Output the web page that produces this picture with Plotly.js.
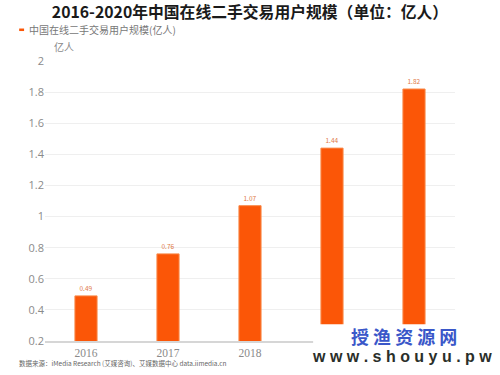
<!DOCTYPE html>
<html><head><meta charset="utf-8">
<script src="https://cdn.plot.ly/plotly-3.0.1.min.js"></script>
<style>html,body{margin:0;padding:0;background:#fff;}</style>
</head><body>
<div id="chart" style="width:500px;height:375px;"></div>
<script>
const years = ['2016', '2017', '2018', '2019', '2020'];
const users = [0.49, 0.76, 1.07, 1.44, 1.82];
const userLabels = ['0.49', '0.76', '1.07', '1.44', '1.82'];
const yTicks = [0.2, 0.4, 0.6, 0.8, 1, 1.2, 1.4, 1.6, 1.8, 2];
const seriesName = '中国在线二手交易用户规模(亿人)';
const titleText = '2016-2020年中国在线二手交易用户规模（单位：亿人）';
const unitText = '亿人';
const sourceText = '数据来源：iMedia Research (艾媒咨询)、艾媒数据中心 data.iimedia.cn';

const cjk = '"Noto Sans CJK SC", "Noto Sans", sans-serif';
const orange = '#fb5607';

const trace = {
  type: 'bar', x: years, y: users, name: seriesName,
  width: 0.27,
  marker: {color: orange, line: {color: '#f98a4a', width: 1}},
  text: userLabels, textposition: 'outside', cliponaxis: false,
  textfont: {family: cjk, size: 6.5, color: '#e07a48'},
  showlegend: false, hoverinfo: 'none'
};

const layout = {
  width: 500, height: 375,
  margin: {l: 45, r: 45, t: 61, b: 34},
  paper_bgcolor: '#ffffff', plot_bgcolor: '#ffffff',
  title: {text: '<b>' + titleText + '</b>', x: 0.5, xanchor: 'center', y: 0.968, yanchor: 'middle',
          font: {family: cjk, size: 15.8, color: '#1a1a1a'}},
  xaxis: {
    type: 'category', showgrid: false, zeroline: false,
    showline: true, linecolor: '#d6d6d6', linewidth: 2,
    ticks: '', tickfont: {family: '"Liberation Serif", serif', size: 11.5, color: '#8a8a8a'}
  },
  yaxis: {
    range: [0.2, 2], tickvals: yTicks, ticktext: yTicks.map(String),
    showgrid: true, gridcolor: '#efefef', gridwidth: 1,
    zeroline: false, showline: false, ticks: '',
    tickfont: {family: '"Open Sans", sans-serif', size: 11, color: '#8a8a8a'}
  },
  shapes: [
    {type: 'rect', xref: 'paper', yref: 'paper', x0: -0.063, x1: -0.051, y0: 1.116, y1: 1.107,
     fillcolor: orange, line: {width: 0}},
    {type: 'rect', xref: 'paper', yref: 'paper', x0: 0.654, x1: 1.2, y0: 0.06, y1: -0.2,
     fillcolor: '#ffffff', line: {width: 0}, layer: 'above'}
  ],
  annotations: [
    {text: seriesName, xref: 'paper', yref: 'paper', x: -0.045, y: 1.111, xanchor: 'left', yanchor: 'middle',
     showarrow: false, font: {family: cjk, size: 10, color: '#777777'}},
    {text: unitText, xref: 'paper', yref: 'paper', x: 0.018, y: 1.053, xanchor: 'left', yanchor: 'middle',
     showarrow: false, font: {family: cjk, size: 10, color: '#8a8a8a'}},
    {text: sourceText, xref: 'paper', yref: 'paper', x: -0.068, y: -0.079, xanchor: 'left', yanchor: 'middle',
     showarrow: false, font: {family: cjk, size: 6.5, color: '#666666'}},
    {text: '<b>授 渔 资 源 网</b>', xref: 'paper', yref: 'paper', x: 0.875, y: 0.018, xanchor: 'center', yanchor: 'middle',
     showarrow: false, font: {family: cjk, size: 18, color: '#3a57c9'}},
    {text: '<b>w w w . s h o u y u . p w</b>', xref: 'paper', yref: 'paper', x: 0.87, y: -0.055, xanchor: 'center', yanchor: 'middle',
     showarrow: false, font: {family: '"Liberation Sans", sans-serif', size: 16, color: '#2b2f2a'}}
  ]
};

Plotly.newPlot('chart', [trace], layout, {displayModeBar: false, staticPlot: true});
</script>
</body></html>
